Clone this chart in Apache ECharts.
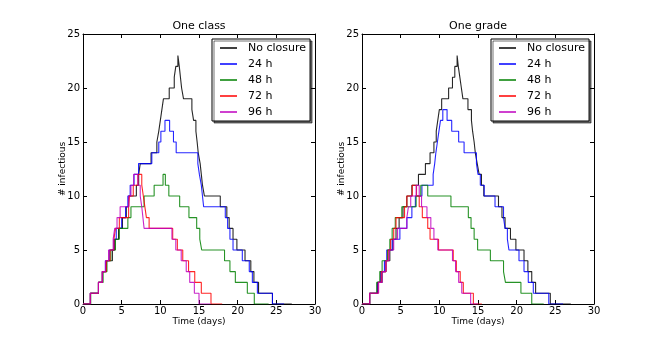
<!DOCTYPE html>
<html>
<head>
<meta charset="utf-8">
<script src="https://cdn.jsdelivr.net/npm/echarts@6/dist/echarts.min.js"></script>
<style>
  html, body { margin: 0; padding: 0; background: #fff; }
  #chart { width: 660px; height: 338px; }
</style>
</head>
<body>
<div id="chart"></div>
<script>
// step data: [day, infectious] - value holds until the next day entry
const seriesNames = ['No closure', '24 h', '48 h', '72 h', '96 h']
const seriesColors = ['#000000', '#0000ff', '#008000', '#ff0000', '#bf00bf']
const panelTitles = ['One class', 'One grade']

const classNone = [[0,0],[0.95,1],[2.0,2],[2.5,3],[3.0,4],[3.8,5],[4.1,6],[4.6,7],[5.1,8],[5.6,9],[5.9,10],[6.9,11],[7.2,12],[7.4,13],[8.8,14],[9.55,15],[9.8,16],[10.0,17],[10.2,18],[10.4,19],[11.15,20],[11.8,21],[12.0,22],[12.27,23],[12.45,22],[12.6,21],[12.75,20],[13.0,19],[14.08,18],[14.3,17],[14.6,16],[14.76,15],[14.9,14],[15.15,13],[15.3,12],[15.45,11],[15.7,10],[17.75,9],[18.6,8],[18.9,7],[19.4,6],[19.9,5],[20.95,4],[21.7,3],[22.1,2],[22.7,1],[24.5,0],[27,0]]
const class24 = [[0,0],[0.95,1],[2.0,2],[2.5,3],[2.9,4],[3.4,5],[4.0,6],[4.3,7],[5.0,8],[5.5,9],[5.8,10],[6.1,11],[6.6,12],[7.18,13],[8.9,14],[9.8,15],[10.07,16],[10.6,17],[11.2,16],[11.7,15],[12.05,14],[14.85,13],[15.05,12],[15.3,11],[15.45,10],[15.6,9],[18.4,8],[18.7,7],[19.0,6],[19.4,5],[20.6,4],[21.5,3],[21.9,2],[22.55,1],[24.5,0],[26,0]]
const class48 = [[0,0],[1.0,1],[2.0,2],[2.6,3],[3.1,4],[3.6,5],[4.2,6],[4.7,7],[5.8,8],[6.2,9],[7.9,10],[9.2,11],[10.35,12],[10.65,11],[11.1,10],[12.5,9],[13.7,8],[14.7,7],[15.1,6],[15.35,5],[18.3,4],[19.0,3],[19.7,2],[21.25,1],[22.15,0],[24,0]]
const class72 = [[0,0],[0.95,1],[2.0,2],[2.5,3],[3.0,4],[3.5,5],[4.0,6],[4.2,7],[4.7,8],[5.9,9],[6.0,10],[6.5,11],[7.1,12],[7.6,11],[7.8,10],[8.0,9],[8.2,8],[8.55,7],[11.6,6],[12.2,5],[12.9,4],[13.65,3],[14.45,2],[15.3,1],[16.55,0],[18,0]]
const class96 = [[0,0],[0.95,1],[2.0,2],[2.5,3],[2.9,4],[3.3,5],[3.9,6],[4.1,7],[4.4,8],[4.8,9],[5.9,10],[6.2,11],[6.55,12],[7.1,11],[7.4,10],[7.6,9],[7.75,8],[7.9,7],[11.5,6],[12.0,5],[12.7,4],[13.35,3],[13.8,2],[14.4,1],[15.0,0],[16.5,0]]

const gradeNone = [[0,0],[0.99,1],[2.0,2],[2.6,3],[3.1,4],[3.6,5],[4.0,6],[4.4,7],[4.8,8],[5.3,9],[5.8,10],[6.45,11],[7.3,12],[8.2,13],[8.8,14],[9.3,15],[9.6,16],[9.8,17],[10.0,18],[10.3,19],[11.2,20],[11.7,21],[12.0,22],[12.3,23],[12.45,22],[12.65,21],[12.85,20],[13.05,19],[13.7,18],[14.15,17],[14.3,16],[14.5,15],[14.65,14],[14.9,13],[15.15,12],[15.45,11],[15.75,10],[17.65,9],[18.1,8],[18.5,7],[19.2,6],[19.9,5],[20.95,4],[21.45,3],[21.95,2],[22.45,1],[24.35,0],[27,0]]
const grade24 = [[0,0],[0.99,1],[2.0,2],[2.4,3],[2.9,4],[3.2,5],[3.9,6],[4.9,7],[5.8,8],[6.45,9],[6.9,10],[7.75,11],[9.2,12],[9.4,13],[9.55,14],[9.75,15],[9.95,16],[10.15,17],[10.45,18],[11.0,17],[11.6,16],[12.5,15],[13.2,14],[14.8,13],[15.0,12],[15.3,11],[15.8,10],[17.2,9],[18.3,8],[18.5,7],[18.8,6],[19.0,5],[20.3,4],[20.95,3],[21.5,2],[22.15,1],[24.15,0],[26,0]]
const grade48 = [[0,0],[0.99,1],[1.9,2],[2.3,3],[2.6,4],[3.3,5],[3.6,6],[3.9,7],[4.3,8],[5.15,9],[7.0,10],[7.6,11],[8.5,10],[11.5,9],[13.75,8],[14.1,7],[14.5,6],[14.95,5],[16.6,4],[18.3,3],[18.55,2],[20.55,1],[21.95,0],[23.5,0]]
const grade72 = [[0,0],[0.99,1],[2.1,2],[2.5,3],[3.1,4],[3.4,5],[3.7,6],[4.1,7],[4.4,8],[5.5,9],[5.8,10],[6.5,11],[7.05,10],[7.4,9],[7.8,8],[8.5,7],[8.8,6],[9.9,5],[11.8,4],[12.2,3],[12.7,2],[13.1,1],[14.4,0],[15.5,0]]
const grade96 = [[0,0],[0.99,1],[2.15,2],[2.6,3],[3.1,4],[3.5,5],[4.1,6],[4.6,7],[5.8,8],[6.0,9],[6.3,10],[7.0,11],[7.4,10],[7.7,9],[8.4,8],[8.9,7],[9.3,6],[9.8,5],[11.7,4],[12.1,3],[12.5,2],[12.9,1],[14.05,0],[15,0]]

const panelData = [
  [classNone, class24, class48, class72, class96],
  [gradeNone, grade24, grade48, grade72, grade96],
]

const font = 'DejaVu Sans'
const gridLefts = [83, 362]
const gridW = 232

const chart = echarts.init(document.getElementById('chart'))

function xAxisFor(gi, top) {
  return {
    type: 'value', gridIndex: gi, position: top ? 'top' : 'bottom',
    min: 0, max: 30, interval: 5,
    name: top ? '' : 'Time (days)', nameLocation: 'middle', nameGap: 13, nameMoveOverlap: false,
    nameTextStyle: { fontFamily: font, fontSize: 9, color: '#000' },
    axisLine: { show: true, onZero: false, lineStyle: { color: '#000', width: 1 } },
    axisTick: { show: true, inside: true, length: 4, lineStyle: { color: '#000' } },
    axisLabel: { show: !top, margin: 2, fontFamily: font, fontSize: 10, color: '#000' },
    splitLine: { show: false },
  }
}

function yAxisFor(gi, right) {
  return {
    type: 'value', gridIndex: gi, position: right ? 'right' : 'left',
    min: 0, max: 25, interval: 5,
    name: right ? '' : '# infectious', nameLocation: 'middle', nameGap: 16, nameMoveOverlap: false,
    nameTextStyle: { fontFamily: font, fontSize: 9, color: '#000' },
    axisLine: { show: true, onZero: false, lineStyle: { color: '#000', width: 1 } },
    axisTick: { show: true, inside: true, length: 4, lineStyle: { color: '#000' } },
    axisLabel: { show: !right, margin: 3, fontFamily: font, fontSize: 10, color: '#000' },
    splitLine: { show: false },
  }
}

const series = []
panelData.forEach((sets, gi) => {
  sets.forEach((d, si) => {
    series.push({
      name: seriesNames[si],
      type: 'line',
      step: 'end',
      xAxisIndex: gi,
      yAxisIndex: gi,
      data: d,
      showSymbol: false,
      color: seriesColors[si],
      lineStyle: { width: 1.1, color: seriesColors[si], opacity: 0.85 },
      emphasis: { disabled: true },
      z: 2 + si,
    })
  })
})

const option = {
  animation: false,
  backgroundColor: '#fff',
  title: panelTitles.map((t, i) => ({
    text: t, left: gridLefts[i] + gridW / 2, top: 21, textAlign: 'center', padding: 0,
    textStyle: { fontFamily: font, fontSize: 11, fontWeight: 'normal', color: '#000' },
  })),
  legend: gridLefts.map((l) => ({
    data: seriesNames,
    orient: 'vertical',
    left: l + 129, top: 39,
    icon: 'rect', itemWidth: 17, itemHeight: 1.5, itemGap: 0,
    padding: [1, 4, 1, 8],
    backgroundColor: '#fff',
    borderColor: '#000', borderWidth: 1,
    shadowColor: 'rgba(0,0,0,0.55)', shadowBlur: 0, shadowOffsetX: 2, shadowOffsetY: 2,
    selectedMode: false,
    textStyle: { fontFamily: font, fontSize: 11, color: '#000', lineHeight: 16, padding: [0, 0, 0, 6] },
  })),
  grid: gridLefts.map((l) => ({ left: l, top: 34, width: gridW, height: 270, containLabel: false })),
  xAxis: [xAxisFor(0, false), xAxisFor(1, false), xAxisFor(0, true), xAxisFor(1, true)],
  yAxis: [yAxisFor(0, false), yAxisFor(1, false), yAxisFor(0, true), yAxisFor(1, true)],
  series: series,
}

chart.setOption(option)
</script>
</body>
</html>
